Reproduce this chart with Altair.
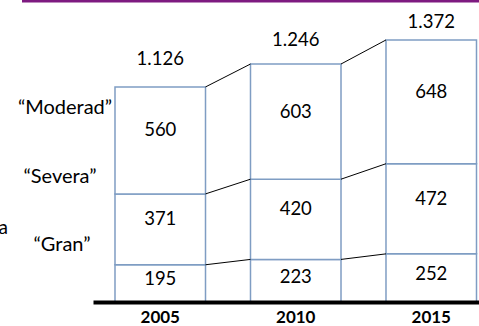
import altair as alt
import pandas as pd

# ---- data ----
years = ["2005", "2010", "2015"]
gran = [195, 223, 252]
severa = [371, 420, 472]
moderada = [560, 603, 648]
side_labels = ["\u201cModerad\u201d", "\u201cSevera\u201d", "\u201cGran\u201d"]
cut_label = "a"

FONT = "Lato"
BORDER = "#7F9DC3"
PURPLE = "#7E1A80"

# ---- derived tables ----
cats = [("Gran", gran), ("Severa", severa), ("Moderada", moderada)]
rows = []
for i, yr in enumerate(years):
    base = 0
    for cat, vals in cats:
        v = vals[i]
        rows.append(dict(year=yr, cat=cat, value=v, y0=base, y1=base + v, mid=base + v / 2))
        base += v
seg = pd.DataFrame(rows)

tot = [g + s + m for g, s, m in zip(gran, severa, moderada)]
totals = pd.DataFrame(dict(year=years, total=tot,
                           label=[f"{t:,}".replace(",", ".") for t in tot]))

conn_rows = []
for i in range(len(years) - 1):
    for cat, _ in cats:
        a = seg[(seg.year == years[i]) & (seg.cat == cat)].y1.iloc[0]
        b = seg[(seg.year == years[i + 1]) & (seg.cat == cat)].y1.iloc[0]
        conn_rows.append(dict(frm=years[i], to=years[i + 1], ya=a, yb=b))
conn = pd.DataFrame(conn_rows)

xscale = alt.Scale(domain=years, paddingInner=0.332, paddingOuter=0.0904, align=0.898)
yscale = alt.Scale(domain=[0, 1466], nice=False, zero=False)

bars = alt.Chart(seg).mark_bar(fill="white", stroke=BORDER, strokeWidth=1.5).encode(
    x=alt.X("year:N", scale=xscale, title=None,
            axis=alt.Axis(ticks=False, labelAngle=0, labelFont=FONT, labelFontWeight="bold",
                          labelFontSize=17, labelColor="black", labelPadding=7,
                          labelBaseline="top", domainColor="black", domainWidth=4,
                          grid=False, zindex=1)),
    y=alt.Y("y0:Q", scale=yscale, axis=None),
    y2="y1:Q",
)

connectors = alt.Chart(conn).mark_rule(color="black", strokeWidth=1).encode(
    x=alt.X("frm:N", bandPosition=1, scale=xscale, title=None),
    x2=alt.X2("to:N", bandPosition=0),
    y=alt.Y("ya:Q", scale=yscale, axis=None),
    y2="yb:Q",
)

upper_text = alt.Chart(seg[seg.cat != "Gran"]).mark_text(
    font=FONT, fontSize=18.5, baseline="middle", dy=-10, color="black").encode(
    x=alt.X("year:N", scale=xscale, title=None),
    y=alt.Y("mid:Q", scale=yscale, axis=None),
    text="value:Q",
)

lower_text = alt.Chart(seg[seg.cat == "Gran"]).mark_text(
    font=FONT, fontSize=18.5, baseline="middle", dy=-4, color="black").encode(
    x=alt.X("year:N", scale=xscale, title=None),
    y=alt.Y("mid:Q", scale=yscale, axis=None),
    text="value:Q",
)

total_text = alt.Chart(totals).mark_text(
    font=FONT, fontSize=18.5, baseline="middle", color="black").encode(
    x=alt.X("year:N", scale=xscale, title=None),
    y=alt.Y("total:Q", scale=alt.Scale(domain=[-493, 1369], nice=False, zero=False), axis=None),
    text="label:N",
)

banner = alt.Chart(pd.DataFrame({"k": [0]})).mark_rect(color=PURPLE).encode(
    x=alt.value(-71), x2=alt.value(390), y=alt.value(-22), y2=alt.value(-19.5)
)

side_pos = [(-28, 86), (-33, 155), (-31, 223)]
side_layers = []
for lab, (px, py) in zip(side_labels, side_pos):
    side_layers.append(
        alt.Chart(pd.DataFrame({"t": [lab]})).mark_text(
            font=FONT, fontSize=20, align="center", baseline="middle", color="black").encode(
            x=alt.value(px), y=alt.value(py), text="t:N")
    )

cut = alt.Chart(pd.DataFrame({"t": [cut_label]})).mark_text(
    font=FONT, fontSize=19, align="right", baseline="middle", color="black").encode(
    x=alt.value(-85), y=alt.value(206), text="t:N")

chart = alt.layer(bars, connectors, upper_text, lower_text, total_text, banner, cut,
                  *side_layers).resolve_scale(y="independent").properties(
    width=386, height=280,
    padding={"left": 93, "top": 22, "right": 0, "bottom": 24},
    autosize=alt.AutoSizeParams(type="none"),
).configure_view(stroke=None)

chart.save("out.html", embed_options={"renderer": "svg", "actions": False})
